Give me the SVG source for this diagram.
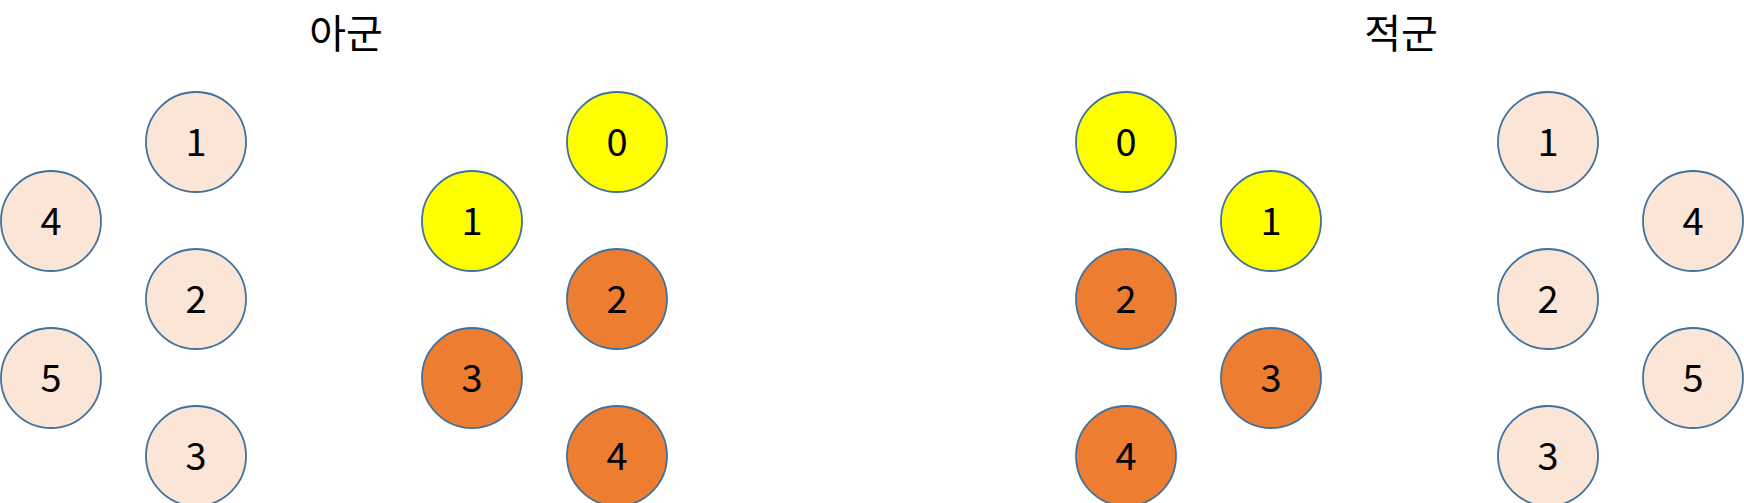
<svg xmlns="http://www.w3.org/2000/svg" width="1744" height="503" viewBox="0 0 1744 503">
<style>
.c{stroke:#41719C;stroke-width:1.8}
.l{fill:#FBE5D6}
.y{fill:#FFFF00}
.o{fill:#ED7D31}
.t{font-family:"Noto Sans CJK KR","Noto Sans",sans-serif;font-size:40px;fill:#000;text-anchor:middle}
.n{font-family:"Noto Sans CJK KR","Noto Sans",sans-serif;font-size:38px;fill:#000;text-anchor:middle}
</style>
<rect width="1744" height="503" fill="#fff"/>
<text class="t" x="346" y="48">아군</text>
<text class="t" x="1401" y="48">적군</text>
<g id="connectors"/>
<g id="a1"><circle class="c l" cx="196" cy="142" r="50"/><text class="n" x="196" y="156">1</text></g>
<g id="a4"><circle class="c l" cx="51" cy="221" r="50"/><text class="n" x="51" y="235">4</text></g>
<g id="a2"><circle class="c l" cx="196" cy="299" r="50"/><text class="n" x="196" y="313">2</text></g>
<g id="a5"><circle class="c l" cx="51" cy="378" r="50"/><text class="n" x="51" y="392">5</text></g>
<g id="a3"><circle class="c l" cx="196" cy="456" r="50"/><text class="n" x="196" y="470">3</text></g>
<g id="b0"><circle class="c y" cx="617" cy="142" r="50"/><text class="n" x="617" y="156">0</text></g>
<g id="b1"><circle class="c y" cx="472" cy="221" r="50"/><text class="n" x="472" y="235">1</text></g>
<g id="b2"><circle class="c o" cx="617" cy="299" r="50"/><text class="n" x="617" y="313">2</text></g>
<g id="b3"><circle class="c o" cx="472" cy="378" r="50"/><text class="n" x="472" y="392">3</text></g>
<g id="b4"><circle class="c o" cx="617" cy="456" r="50"/><text class="n" x="617" y="470">4</text></g>
<g id="c0"><circle class="c y" cx="1126" cy="142" r="50"/><text class="n" x="1126" y="156">0</text></g>
<g id="c1"><circle class="c y" cx="1271" cy="221" r="50"/><text class="n" x="1271" y="235">1</text></g>
<g id="c2"><circle class="c o" cx="1126" cy="299" r="50"/><text class="n" x="1126" y="313">2</text></g>
<g id="c3"><circle class="c o" cx="1271" cy="378" r="50"/><text class="n" x="1271" y="392">3</text></g>
<g id="c4"><circle class="c o" cx="1126" cy="456" r="50"/><text class="n" x="1126" y="470">4</text></g>
<g id="d1"><circle class="c l" cx="1548" cy="142" r="50"/><text class="n" x="1548" y="156">1</text></g>
<g id="d4"><circle class="c l" cx="1693" cy="221" r="50"/><text class="n" x="1693" y="235">4</text></g>
<g id="d2"><circle class="c l" cx="1548" cy="299" r="50"/><text class="n" x="1548" y="313">2</text></g>
<g id="d5"><circle class="c l" cx="1693" cy="378" r="50"/><text class="n" x="1693" y="392">5</text></g>
<g id="d3"><circle class="c l" cx="1548" cy="456" r="50"/><text class="n" x="1548" y="470">3</text></g>
</svg>
